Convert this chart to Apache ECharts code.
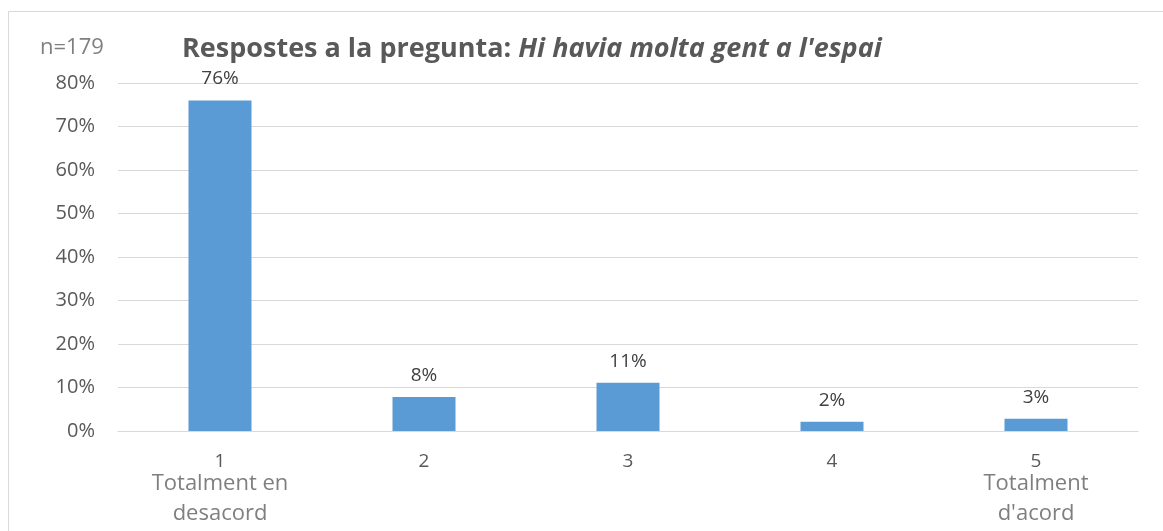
<!DOCTYPE html>
<html>
<head>
<meta charset="utf-8">
<script src="https://cdn.jsdelivr.net/npm/echarts@6/dist/echarts.min.js"></script>
<style>
html, body { margin: 0; padding: 0; background: #fff; }
#main { width: 1163px; height: 531px; }
</style>
</head>
<body>
<div id="main"></div>
<script>
// dades
var categories = ['1', '2', '3', '4', '5'];
var categoryNotes = ['Totalment en\ndesacord', '', '', '', "Totalment\nd'acord"];
var values = [76, 7.8, 11.1, 2.1, 2.8];
var valueLabels = ['76%', '8%', '11%', '2%', '3%'];
var yTicks = ['0%', '10%', '20%', '30%', '40%', '50%', '60%', '70%', '80%'];
var sampleSize = 'n=179';

var FONT = '"Open Sans", "Noto Sans", sans-serif';

var chart = echarts.init(document.getElementById('main'));

var option = {
    animation: false,
    textStyle: { fontFamily: FONT },
    title: {
        text: '{b|Respostes a la pregunta: }{i|Hi havia molta gent a l\'espai}',
        left: 182,
        top: 34,
        padding: 0,
        textStyle: {
            rich: {
                b: { fontFamily: FONT, fontWeight: 'bold', fontSize: 27, lineHeight: 30, color: '#595959' },
                i: { fontFamily: FONT, fontWeight: 'bold', fontStyle: 'italic', fontSize: 27, lineHeight: 30, color: '#595959' }
            }
        }
    },
    graphic: [
        {
            type: 'rect',
            shape: { x: 8.5, y: 11.5, width: 1170, height: 540 },
            style: { fill: 'none', stroke: '#d9d9d9', lineWidth: 1 },
            silent: true
        },
        {
            type: 'text',
            x: 40,
            y: 48,
            style: {
                text: sampleSize, fontFamily: FONT, fontSize: 22, fill: '#7f7f7f',
                verticalAlign: 'middle', align: 'left'
            }
        }
    ],
    grid: { left: 118, right: 25, top: 83, bottom: 100, containLabel: false },
    xAxis: {
        type: 'category',
        data: categories,
        axisLine: { lineStyle: { color: '#d9d9d9', width: 1 } },
        axisTick: { show: false },
        axisLabel: {
            margin: 21,
            interval: 0,
            formatter: function (val, idx) {
                var note = categoryNotes[idx];
                if (!note) return '{n|' + val + '}';
                var parts = note.split('\n');
                return '{n|' + val + '}\n{a|' + parts[0] + '}\n{c|' + parts[1] + '}';
            },
            rich: {
                n: { fontFamily: FONT, fontSize: 19, color: '#595959', lineHeight: 20 },
                a: { fontFamily: FONT, fontSize: 22, color: '#7f7f7f', lineHeight: 24 },
                c: { fontFamily: FONT, fontSize: 22, color: '#7f7f7f', lineHeight: 36 }
            }
        }
    },
    yAxis: {
        type: 'value',
        min: 0,
        max: 80,
        interval: 10,
        axisLine: { show: false },
        axisTick: { show: false },
        splitLine: { lineStyle: { color: '#d9d9d9', width: 1 } },
        axisLabel: {
            margin: 23,
            fontFamily: FONT,
            fontSize: 20,
            color: '#595959',
            formatter: function (v) { return yTicks[Math.round(v / 10)]; }
        }
    },
    series: [{
        type: 'bar',
        data: values,
        barWidth: 63,
        itemStyle: { color: '#5b9bd5' },
        label: {
            show: true,
            position: 'top',
            distance: 12,
            fontFamily: FONT,
            fontSize: 19,
            color: '#404040',
            formatter: function (p) { return valueLabels[p.dataIndex]; }
        }
    }]
};

chart.setOption(option);
</script>
</body>
</html>
